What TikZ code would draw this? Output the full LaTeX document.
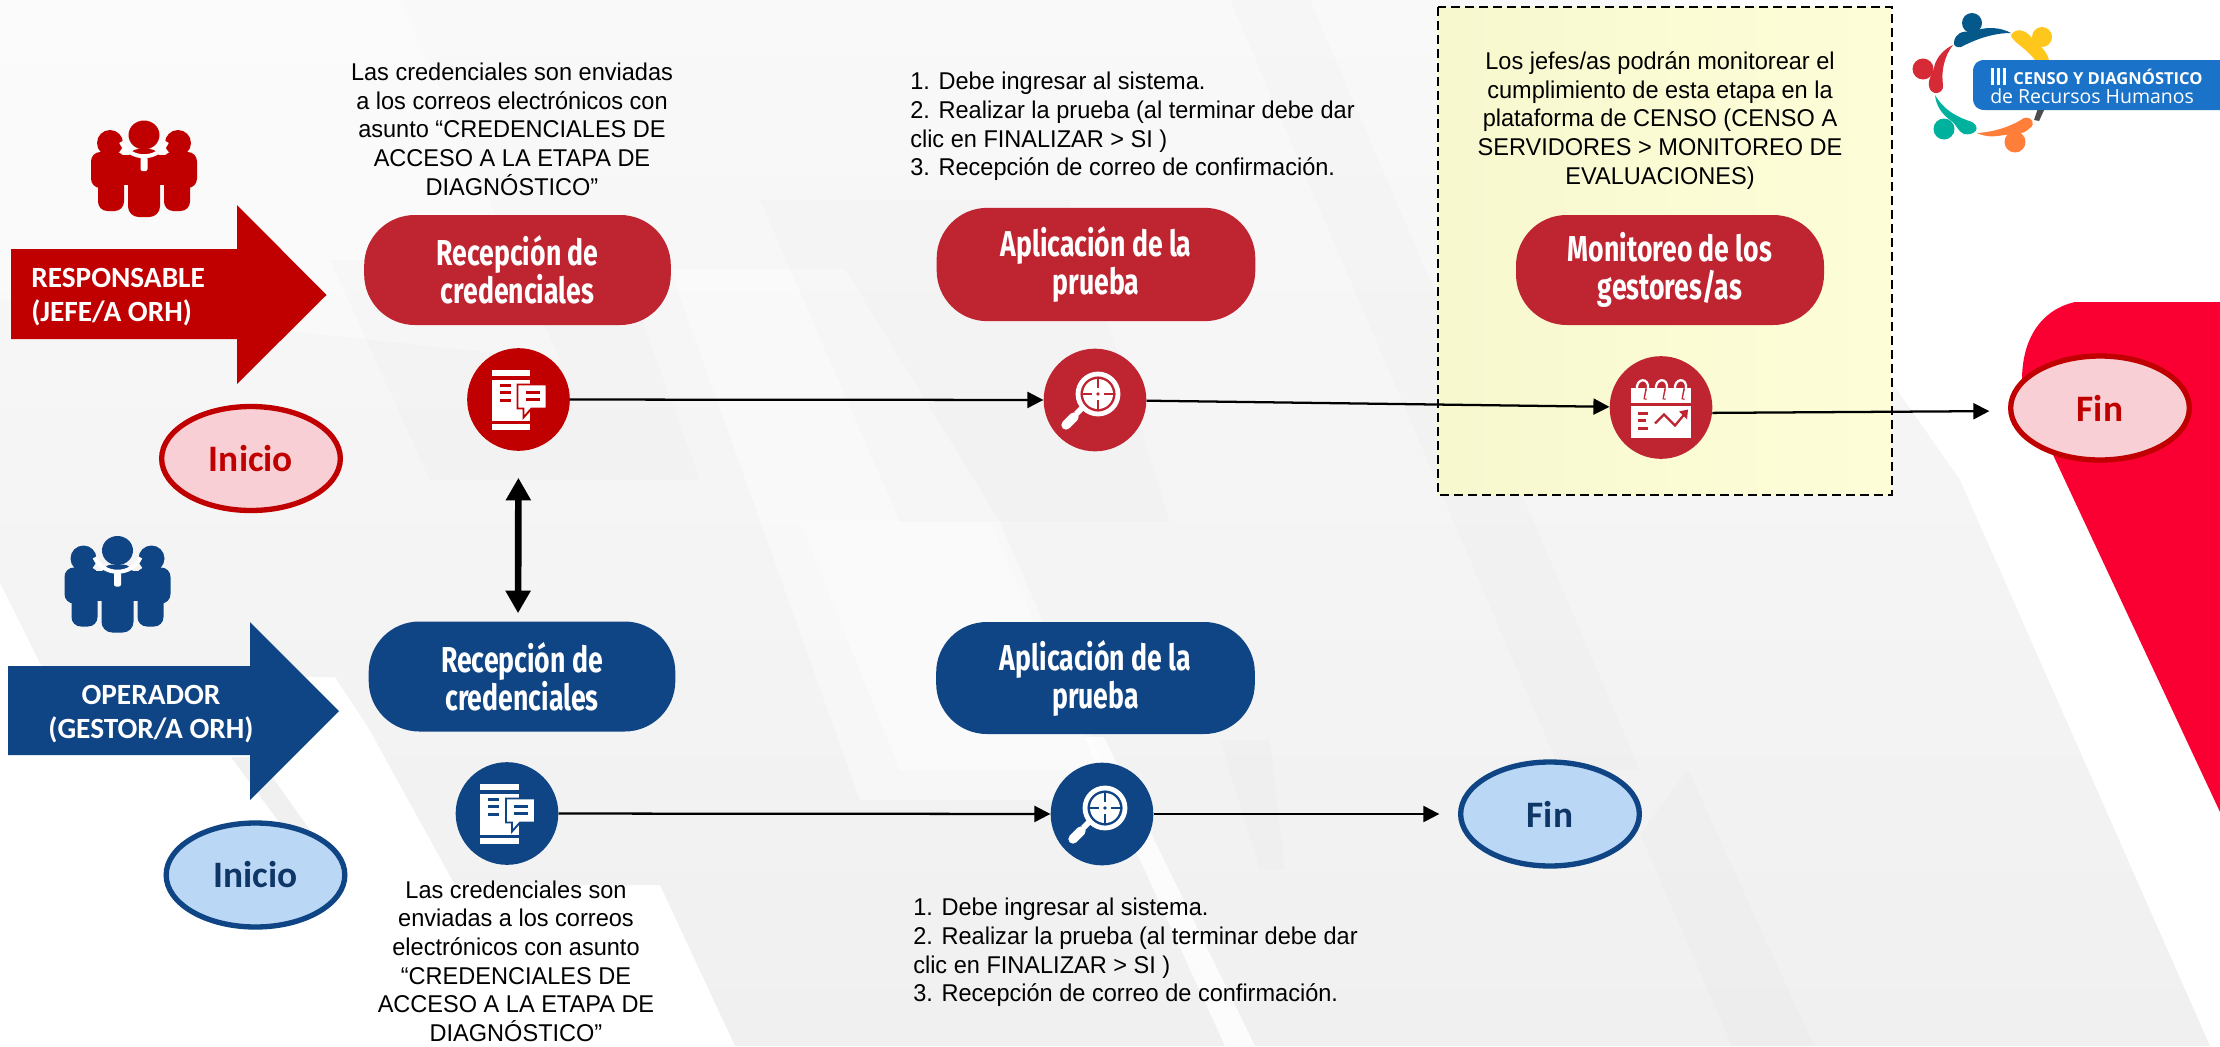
\documentclass[tikz,border=0pt]{standalone}
\usepackage{fontspec}
\usetikzlibrary{arrows.meta,shapes.geometric,calc}
\setmainfont{Liberation Sans}[FakeStretch=0.97]
\newfontfamily\pillfont{Fira Sans}[FakeStretch=0.74]
\newfontfamily\carfont{Carlito}
\newfontfamily\logofont{Open Sans}
\definecolor{rdark}{HTML}{C00000}
\definecolor{rpill}{HTML}{BF2431}
\definecolor{bdark}{HTML}{0F4585}
\definecolor{pinkf}{HTML}{F7CFD4}
\definecolor{bluef}{HTML}{BAD7F5}
\definecolor{bluet}{HTML}{0E3666}
\definecolor{band}{HTML}{FA0032}
\definecolor{logob}{HTML}{1A73C8}
\definecolor{lgblue}{HTML}{05588A}
\definecolor{lgred}{HTML}{D62B36}
\definecolor{lgteal}{HTML}{00B19D}
\definecolor{lgorange}{HTML}{FF7F3A}
\definecolor{lgyellow}{HTML}{FFC61B}
\definecolor{bgtop}{HTML}{F9F9F9}
\definecolor{bgbot}{HTML}{F0F0F0}
\definecolor{boxl}{HTML}{F8F8CF}
\definecolor{boxr}{HTML}{FDFDD8}
\tikzset{
  pill/.style={rectangle,rounded corners=38pt,inner sep=0pt,align=center,text=white,
     font=\pillfont\bfseries\fontsize{27}{28.5}\selectfont},
  endellipse/.style={ellipse,draw,line width=4pt,inner sep=0pt,minimum width=134pt,minimum height=78pt,
     font=\carfont\bfseries\fontsize{28}{30}\selectfont},
  iconc/.style={circle,inner sep=0pt,minimum size=77pt},
  bodytext/.style={inner sep=0pt,align=center,font=\fontsize{18.2}{21.5}\selectfont},
  listtext/.style={inner sep=0pt,align=left,anchor=west,font=\fontsize{18.2}{21.4}\selectfont},
  arrowtext/.style={inner sep=0pt,text=white,font=\carfont\bfseries\fontsize{22}{26}\selectfont},
  flow/.style={line width=1.7pt,-{Triangle[length=12pt,width=12pt]}},
  both/.style={line width=5pt,{Triangle[length=17pt,width=18pt]}-{Triangle[length=17pt,width=18pt]}},
  darkband/.style={fill=black,fill opacity=0.012},
  lightband/.style={fill=white,fill opacity=0.4},
}
\newcommand{\peopleicon}[3]{%
 \begin{scope}[shift={(#1,#2)}]
  \fill[#3,rounded corners=7pt] (-53,-17) rectangle (-19,19);
  \fill[#3,rounded corners=7pt] (53,-17) rectangle (19,19);
  \fill[#3,rounded corners=7pt] (-46,0) rectangle (-20,42);
  \fill[#3,rounded corners=7pt] (46,0) rectangle (20,42);
  \fill[#3,rounded corners=8pt] (-16,-20) rectangle (16,48);
  \fill[#3] (-25,-14) rectangle (25,16);
  \fill[#3] (-34,-26) circle (13);
  \fill[#3] (34,-26) circle (13);
  \draw[white,line width=3pt] (-23,-27) .. controls (-14,-8) and (14,-8) .. (23,-27);
  \fill[white,rounded corners=1.5pt] (-3.5,-12) rectangle (3.5,2);
  \fill[#3] (0,-34) ellipse (15.5 and 14.5);
 \end{scope}}
\newcommand{\docicon}[2]{%
 \begin{scope}[shift={(#1)}]
  \fill[white] (-27,-29.5) rectangle (11.5,-23.5);
  \fill[white] (-27,-20) rectangle (11.5,21.5);
  \fill[white] (-27,24.5) rectangle (11.5,30.5);
  \fill[#2] (-19,-16) rectangle (-8,-12.5);
  \fill[#2] (-19,-9) rectangle (-8,-5.5);
  \fill[#2] (-19,-1) rectangle (-8,2.5);
  \fill[white,draw=#2,line width=1.4pt] (-1,-15) -- (28,-15) -- (28,9) -- (13,9) -- (5,18) -- (5,9) -- (-1,9) -- cycle;
  \fill[#2] (7,-9) rectangle (21,-5.5);
  \fill[#2] (7,-2) rectangle (21,1.5);
 \end{scope}}
\newcommand{\lensicon}[2]{%
 \begin{scope}[shift={(#1)}]
  \draw[white,line width=3.6pt] (3,-6) circle (20);
  \fill[white] (3,-6) circle (15);
  \draw[#2,line width=1.5pt] (3,-21) -- (3,-12) (3,0) -- (3,9) (-12,-6) -- (-3,-6) (9,-6) -- (18,-6);
  \fill[#2] (3,-6) circle (1.8);
  \draw[white,line width=6pt] (-18,9) -- (-14,13);
  \draw[white,line width=7pt,line cap=round] (-29,25) -- (-21,17);
 \end{scope}}
\newcommand{\calicon}[2]{%
 \begin{scope}[shift={(#1)}]
  \fill[white] (-30,-20) rectangle (30,-5);
  \fill[white] (-30,-2) rectangle (30,30);
  \foreach \rx in {-18,1,20}{
    \draw[#2,line width=2.4pt] (\rx+4,-19) -- (\rx+2,-8);
    \draw[white,line width=1.7pt] (\rx-6,-17) .. controls (\rx-8,-30) and (\rx+7,-31) .. (\rx+5,-18) -- (\rx+3,-9);
  }
  \fill[#2] (-23,4) rectangle (-13,7);
  \fill[#2] (-23,11) rectangle (-15,14);
  \fill[#2] (-23,19) rectangle (-13,22);
  \draw[#2,line width=1.7pt] (-6,16) -- (3,7) -- (14,18) -- (24,6);
  \fill[#2] (27,2) -- (18,4) -- (26,12) -- cycle;
 \end{scope}}
\begin{document}
\begin{tikzpicture}[x=0.75pt,y=-0.75pt]
\useasboundingbox (0,0) rectangle (2220,1046);
% --- background
\fill[white] (0,0) rectangle (2220,1046);
\shade[top color=bgtop,bottom color=bgbot] (0,0) -- (1670,0) -- (1897,390) -- (1960,480) -- (2210,1046) -- (735,1046) -- (660,885) -- (455,885)
   -- (368,727) -- (335,677) -- (300,677) -- (42,667) -- (0,583) -- cycle;
\fill[bgbot] (231,757) -- (258,757) -- (310,830) -- (285,830) -- cycle;
\fill[lightband] (670,269) -- (845,269) -- (1000,522) -- (1120,800) -- (860,800) -- cycle;
\fill[lightband] (0,0) -- (400,0) -- (560,360) -- (0,300) -- cycle;
\fill[lightband] (800,522) -- (990,522) -- (1100,770) -- (900,770) -- cycle;
\fill[darkband] (760,200) -- (1070,200) -- (1170,522) -- (900,522) -- cycle;
\fill[darkband] (330,260) -- (620,260) -- (700,480) -- (430,480) -- cycle;
\fill[darkband] (1230,0) -- (1310,0) -- (1640,770) -- (1560,770) -- cycle;
\fill[darkband] (1220,740) -- (1270,740) -- (1285,870) -- (1260,870) -- cycle;
\fill[darkband] (1640,834) -- (1688,769) -- (1814,1046) -- (1732,1046) -- cycle;
\fill[white,opacity=.8] (1084,737) -- (1104,737) -- (1255,1046) -- (1225,1046) -- cycle;
% red band
\fill[band] (2220,302) -- (2075,302) .. controls (2040,310) and (2022,340) .. (2022,380)
   -- (2054,457) -- (2220,812) -- cycle;
% dashed box
\shade[left color=boxl,right color=boxr] (1438,7) rectangle (1892,495);
\draw[black,line width=1.7pt,dash pattern=on 7pt off 3.5pt] (1438,7) rectangle (1892,495);
% people + arrows
\peopleicon{144}{169}{rdark}
\peopleicon{117.5}{584.5}{bdark}
\fill[rdark] (11,249) -- (237,249) -- (237,205) -- (326.5,295) -- (237,384) -- (237,339) -- (11,339) -- cycle;
\fill[bdark] (8,666) -- (250,666) -- (250,622) -- (339,711) -- (250,800) -- (250,755) -- (8,755) -- cycle;
\node[arrowtext,align=left,anchor=west] (respo) at (31,297) {RESPONSABLE\\(JEFE/A ORH)};
\node[arrowtext,align=center] (oper) at (151,714) {OPERADOR\\(GESTOR/A ORH)};
% pills
\node[pill,fill=rpill,minimum width=230pt,minimum height=82.5pt] (p1r) at (517.5,270) {Recepción de\\credenciales};
\node[pill,fill=rpill,minimum width=239pt,minimum height=85pt] (p2r) at (1096,264.5) {Aplicación de la\\prueba};
\node[pill,fill=rpill,minimum width=231pt,minimum height=82.5pt] (p3r) at (1670,270) {Monitoreo de los\\gestores/as};
\node[pill,fill=bdark,minimum width=230pt,minimum height=82.5pt] (p1b) at (522,676.5) {Recepción de\\credenciales};
\node[pill,fill=bdark,minimum width=239pt,minimum height=84pt] (p2b) at (1095.5,678) {Aplicación de la\\prueba};
% end ellipses
\node[endellipse,draw=rdark,fill=pinkf,text=rdark] (inr) at (251,458.5) {Inicio};
\node[endellipse,draw=bdark,fill=bluef,text=bluet] (inb) at (255.5,875) {Inicio};
\node[endellipse,draw=rdark,fill=pinkf,text=rdark] (finr) at (2100,408) {Fin};
\node[endellipse,draw=bdark,fill=bluef,text=bluet] (finb) at (1550,814) {Fin};
% circles
\node[iconc,fill=rdark] (c1) at (518.5,399.5) {};
\node[iconc,fill=rpill] (c2) at (1095,400) {};
\node[iconc,fill=rpill] (c3) at (1661,407.5) {};
\node[iconc,fill=bdark] (c4) at (507,813.5) {};
\node[iconc,fill=bdark] (c5) at (1102,814) {};
\docicon{c1}{rdark}
\lensicon{c2}{rpill}
\calicon{c3}{rpill}
\docicon{c4}{bdark}
\lensicon{c5}{bdark}
% connectors
\draw[flow] (c1) -- (c2);
\draw[flow] (c2) -- (c3);
\draw[flow,shorten >=14pt] (c3.-6) -- ($(finr.west)+(0,3)$);
\draw[flow] (c4) -- (c5);
\draw[flow,shorten >=14pt] (c5) -- (finb);
\draw[both,shorten <=20pt,shorten >=6pt] (c1.south) -- ($(p1b.north)+(-4,0)$);
% texts
\node[bodytext] (t1) at (512,129) {Las credenciales son enviadas\\a los correos electrónicos con\\asunto “CREDENCIALES DE\\ACCESO A LA ETAPA DE\\DIAGNÓSTICO”};
\node[listtext] (t2) at (910,126.5) {1. Debe ingresar al sistema.\\2. Realizar la prueba (al terminar debe dar\\clic en FINALIZAR > SI )\\3. Recepción de correo de confirmación.};
\node[bodytext] (t3) at (1660,120.5) {Los jefes/as podrán monitorear el\\cumplimiento de esta etapa en la\\plataforma de CENSO (CENSO A\\SERVIDORES > MONITOREO DE\\EVALUACIONES)};
\node[bodytext] (t4) at (516,961) {Las credenciales son\\enviadas a los correos\\electrónicos con asunto\\“CREDENCIALES DE\\ACCESO A LA ETAPA DE\\DIAGNÓSTICO”};
\node[listtext] (t5) at (913,952.5) {1. Debe ingresar al sistema.\\2. Realizar la prueba (al terminar debe dar\\clic en FINALIZAR > SI )\\3. Recepción de correo de confirmación.};
% logo
\fill[lgyellow] (2042,37) circle (10);
\fill[lgyellow] (2011,35) .. controls (2016,27) and (2026,30) .. (2032,38) .. controls (2040,46) and (2046,50) .. (2049,60) -- (2035,60) .. controls (2024,46) and (2012,42) .. (2011,35) -- cycle;
\fill[black!70] (2045,108) -- (2039,121) -- (2034,120) -- (2038,108) -- cycle;
\fill[logob] (2220,60) -- (1985,60) .. controls (1977,60) and (1973,64) .. (1973,72) -- (1973,98)
   .. controls (1973,106) and (1977,110) .. (1985,110) -- (2220,110) -- cycle;
\fill[lgblue] (1972,23) circle (10);
\fill[lgblue] (1954,42) .. controls (1955,34) and (1962,30) .. (1972,32) .. controls (1985,26) and (2000,27) .. (2011,33) .. controls (1995,33) and (1978,38) .. (1961,47) .. controls (1957,48) and (1953,46) .. (1954,42) -- cycle;
\fill[lgred] (1923,69) circle (10.5);
\fill[lgred] (1953,45) .. controls (1944,56) and (1941,72) .. (1943,85) .. controls (1944,95) and (1930,96) .. (1929,86) .. controls (1928,78) and (1932,76) .. (1934,68) .. controls (1935,60) and (1942,50) .. (1953,45) -- cycle;
\fill[lgteal] (1944,129) circle (10.5);
\fill[lgteal] (1935,95) .. controls (1945,112) and (1960,118) .. (1972,122) .. controls (1982,128) and (1974,136) .. (1964,134) .. controls (1956,130) and (1957,124) .. (1950,120) .. controls (1942,114) and (1936,106) .. (1935,95) -- cycle;
\fill[lgorange] (2015,142) circle (10.5);
\fill[lgorange] (1977,133) .. controls (1995,132) and (2012,126) .. (2024,118) .. controls (2032,116) and (2036,124) .. (2030,128) .. controls (2022,136) and (2012,134) .. (2004,135) .. controls (1994,137) and (1985,137) .. (1977,133) -- cycle;
\foreach \bx in {1991,1997,2003}{\fill[white] (\bx,68) rectangle (\bx+2.5,85);}
\node[inner sep=0pt,anchor=west,text=white,font=\logofont\bfseries\fontsize{12.4}{14}\selectfont] (l1) at (2013,77) {CENSO Y DIAGNÓSTICO};
\node[inner sep=0pt,anchor=west,text=white,font=\logofont\fontsize{14.6}{18}\selectfont] (l2) at (1990,96) {de Recursos Humanos};
\end{tikzpicture}
\end{document}
